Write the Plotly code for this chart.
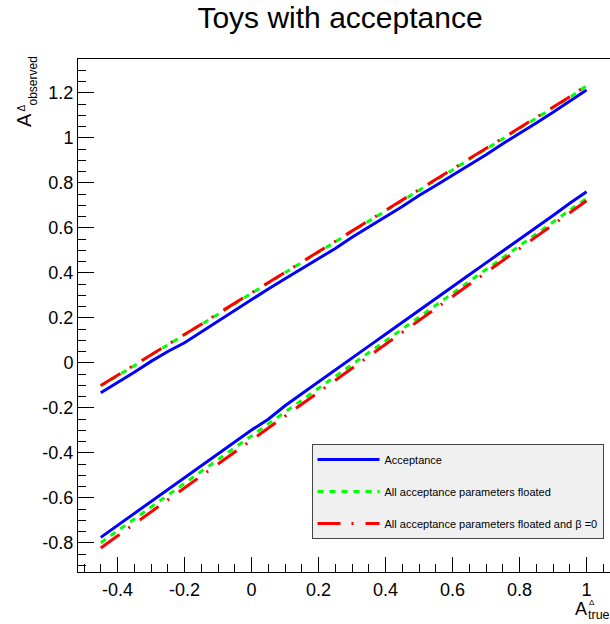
import plotly.graph_objects as go

# True asymmetry values of the toy scan
a_true = [-0.45, -0.40, -0.35, -0.30, -0.25, -0.20, -0.15, -0.10, -0.05, 0.00,
          0.05, 0.10, 0.15, 0.20, 0.25, 0.30, 0.35, 0.40, 0.45, 0.50,
          0.55, 0.60, 0.65, 0.70, 0.75, 0.80, 0.85, 0.90, 0.95, 1.00]

# Observed asymmetry, upper band
upper_acc = [-0.132, -0.087, -0.041, 0.007, 0.051, 0.090, 0.138, 0.187, 0.234, 0.282,
             0.329, 0.374, 0.419, 0.461, 0.509, 0.559, 0.606, 0.650, 0.695, 0.744,
             0.789, 0.834, 0.878, 0.925, 0.974, 1.019, 1.067, 1.114, 1.162, 1.213]
upper_float = [-0.102, -0.058, -0.012, 0.035, 0.080, 0.125, 0.170, 0.218, 0.262, 0.310,
               0.355, 0.400, 0.447, 0.492, 0.538, 0.585, 0.630, 0.676, 0.722, 0.768,
               0.812, 0.858, 0.905, 0.950, 0.996, 1.042, 1.088, 1.135, 1.180, 1.232]
upper_beta0 = [-0.100, -0.055, -0.010, 0.037, 0.083, 0.128, 0.172, 0.220, 0.265, 0.312,
               0.357, 0.403, 0.449, 0.495, 0.540, 0.588, 0.633, 0.679, 0.724, 0.771,
               0.815, 0.861, 0.907, 0.953, 0.999, 1.045, 1.091, 1.137, 1.183, 1.234]

# Observed asymmetry, lower band
lower_acc = [-0.775, -0.722, -0.668, -0.617, -0.565, -0.510, -0.458, -0.405, -0.352, -0.298,
             -0.250, -0.190, -0.137, -0.085, -0.032, 0.022, 0.075, 0.128, 0.180, 0.233,
             0.287, 0.338, 0.392, 0.445, 0.497, 0.550, 0.602, 0.655, 0.710, 0.761]
lower_float = [-0.799, -0.746, -0.693, -0.641, -0.588, -0.535, -0.482, -0.430, -0.377, -0.324,
               -0.271, -0.218, -0.166, -0.113, -0.060, -0.007, 0.046, 0.098, 0.151, 0.204,
               0.257, 0.310, 0.362, 0.415, 0.468, 0.521, 0.574, 0.626, 0.679, 0.732]
lower_beta0 = [-0.822, -0.768, -0.715, -0.662, -0.609, -0.555, -0.502, -0.449, -0.396, -0.342,
               -0.289, -0.236, -0.183, -0.130, -0.076, -0.023, 0.030, 0.083, 0.136, 0.190,
               0.243, 0.296, 0.349, 0.402, 0.456, 0.509, 0.562, 0.615, 0.668, 0.721]

series_names = ["Acceptance",
                "All acceptance parameters floated",
                "All acceptance parameters floated and β =0"]

x_tickvals = [-0.4, -0.2, 0.0, 0.2, 0.4, 0.6, 0.8, 1.0]
x_ticktext = ["-0.4", "-0.2", "0", "0.2", "0.4", "0.6", "0.8", "1"]
y_tickvals = [-0.8, -0.6, -0.4, -0.2, 0.0, 0.2, 0.4, 0.6, 0.8, 1.0, 1.2]
y_ticktext = ["-0.8", "-0.6", "-0.4", "-0.2", "0", "0.2", "0.4", "0.6", "0.8", "1", "1.2"]

W, H = 610, 624
ML, MR, MT, MB = 78, 0, 59, 52
FONT = "Liberation Sans, Arial, Helvetica, sans-serif"


def px_x(p):
    return (p - ML) / (W - ML - MR)


def px_y(p):
    return (H - MB - p) / (H - MT - MB)


styles = [
    dict(color="#0000ff", width=3, dash="solid"),
    dict(color="#00ff00", width=3, dash="6px,6px"),
    dict(color="#ff0000", width=3, dash="23px,11px,2px,12px"),
]
uppers = [upper_acc, upper_float, upper_beta0]
lowers = [lower_acc, lower_float, lower_beta0]

fig = go.Figure()
for i, name in enumerate(series_names):
    fig.add_trace(go.Scatter(x=a_true, y=uppers[i], mode="lines", name=name,
                             line=styles[i], legendgroup=f"g{i}", showlegend=True))
    fig.add_trace(go.Scatter(x=a_true, y=lowers[i], mode="lines", name=name,
                             line=styles[i], legendgroup=f"g{i}", showlegend=False))

axis_common = dict(
    showline=True, linecolor="black", linewidth=1,
    ticks="inside", tickcolor="black", tickwidth=1,
    showgrid=False, zeroline=False,
    tickfont=dict(family=FONT, size=18, color="black"),
)

fig.update_xaxes(
    range=[-0.518, 1.070], tickvals=x_tickvals, ticktext=x_ticktext,
    ticklen=15, mirror=True, ticklabelstandoff=1,
    minor=dict(ticks="inside", ticklen=8, dtick=0.05, tick0=0, tickcolor="black", showgrid=False),
    **axis_common,
)
fig.update_yaxes(
    range=[-0.929, 1.351], tickvals=y_tickvals, ticktext=y_ticktext,
    ticklen=16, mirror=False,
    minor=dict(ticks="inside", ticklen=8, dtick=0.05, tick0=0, tickcolor="black", showgrid=False),
    **axis_common,
)

annotations = [
    # y-axis title: A with stacked Δ / observed
    dict(text="A", x=px_x(24.5), y=px_y(120.5), textangle=-90, font=dict(size=20)),
    dict(text="Δ", x=px_x(21.0), y=px_y(108.5), textangle=-90, font=dict(size=10)),
    dict(text="observed", x=px_x(32.0), y=px_y(81.5), textangle=-90, font=dict(size=12)),
    # x-axis title: A with stacked Δ / true
    dict(text="A", x=px_x(580.5), y=px_y(609.0), font=dict(size=18)),
    dict(text="Δ", x=px_x(587.5), y=px_y(602.5), xanchor="left", font=dict(size=8)),
    dict(text="true", x=px_x(586.5), y=px_y(614.5), xanchor="left", font=dict(size=12.5)),
]
for a in annotations:
    a.setdefault("xanchor", "center")
    a.setdefault("yanchor", "middle")
    a.update(xref="paper", yref="paper", showarrow=False, borderpad=0)
    a["font"].update(family=FONT, color="black")

fig.update_layout(
    width=W, height=H,
    margin=dict(l=ML, r=MR, t=MT, b=MB, pad=0),
    paper_bgcolor="white", plot_bgcolor="white",
    title=dict(text="Toys with acceptance", x=340 / W, xanchor="center",
               y=1 - 17 / H, yanchor="middle",
               font=dict(family=FONT, size=30, color="black")),
    font=dict(family=FONT, color="black"),
    legend=dict(x=px_x(311.5), y=px_y(444), xanchor="left", yanchor="top",
                bgcolor="#f0f0f0", bordercolor="#444444", borderwidth=1,
                font=dict(family=FONT, size=11, color="black"),
                tracegroupgap=13, itemwidth=62, traceorder="grouped"),
    annotations=annotations,
    showlegend=True,
)

fig.write_html("out.html")
